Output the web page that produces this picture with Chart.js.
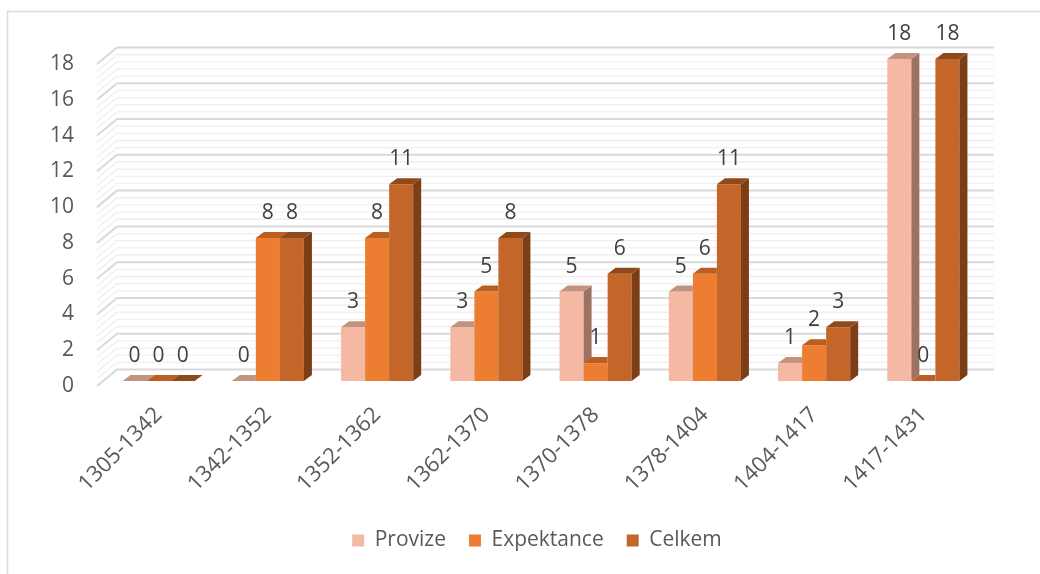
<!DOCTYPE html>
<html>
<head>
<meta charset="utf-8">
<script src="https://cdn.jsdelivr.net/npm/chart.js@4.4.0/dist/chart.umd.min.js"></script>
<style>
html,body{margin:0;padding:0;background:#fff;}
#wrap{position:relative;width:1040px;height:574px;}
</style>
</head>
<body>
<div id="wrap"><canvas id="c" width="1040" height="574"></canvas></div>
<script>
const categories = ['1305-1342','1342-1352','1352-1362','1362-1370','1370-1378','1378-1404','1404-1417','1417-1431'];
const provize = [0, 0, 3, 3, 5, 5, 1, 18];
const expektance = [0, 8, 8, 5, 1, 6, 2, 0];
const celkem = [0, 8, 11, 8, 6, 11, 3, 18];
const seriesNames = ['Provize', 'Expektance', 'Celkem'];
const yMin = 0, yMax = 18, yStep = 2;

const FONT = "'Open Sans', 'DejaVu Sans', sans-serif";
const faceColors = [
  {front: '#F4B8A3', top: '#C4937F', side: '#9E7262'},
  {front: '#ED7D31', top: '#BB5E22', side: '#A3531C'},
  {front: '#C4652A', top: '#8F4A1C', side: '#7B3E16'}
];
const DX = 8, DY = 6;          // bar depth
const FL = -7, FY = 5;         // floor front edge offset
const BX = 13, BY = -11.5;     // back wall offset
const BR = 16;                 // back wall right extension

const plugin3d = {
  id: 'fake3d',
  beforeDatasetsDraw(chart) {
    const {ctx, chartArea: a, scales: {y}} = chart;
    ctx.save();
    ctx.strokeStyle = '#d9d9d9';
    ctx.lineWidth = 1.5;
    ctx.beginPath();
    ctx.moveTo(7.5, 574); ctx.lineTo(7.5, 11.5); ctx.lineTo(1040, 11.5);
    ctx.stroke();
    const line = (v, color, w) => {
      const py = y.getPixelForValue(v);
      ctx.strokeStyle = color; ctx.lineWidth = w;
      ctx.beginPath();
      ctx.moveTo(a.left + FL, py + FY);
      ctx.lineTo(a.left + BX, py + BY);
      ctx.lineTo(a.right + BR, py + BY);
      ctx.stroke();
    };
    for (let k = 0; k <= 45; k++) {
      if (k % 5 === 0) continue;
      line(k * 0.4, '#efefef', 1.3);
    }
    y.ticks.forEach(t => line(t.value, '#d9d9d9', 2));
    ctx.restore();
  },
  afterDatasetsDraw(chart) {
    const {ctx} = chart;
    const metas = [0, 1, 2].map(i => chart.getDatasetMeta(i));
    ctx.save();
    for (let j = 0; j < categories.length; j++) {
      for (let i = 0; i < 3; i++) {
        const el = metas[i].data[j];
        const p = el.getProps(['x', 'y', 'base', 'width'], true);
        const l = p.x - p.width / 2, r = p.x + p.width / 2;
        ctx.save();
        if (i < 2) {
          const n = metas[i + 1].data[j].getProps(['x', 'y', 'base', 'width'], true);
          const nl = n.x - n.width / 2;
          ctx.beginPath();
          ctx.rect(0, 0, chart.width, chart.height);
          ctx.rect(nl, n.y, n.width, n.base - n.y);
          ctx.clip('evenodd');
        }
        const c = faceColors[i];
        ctx.fillStyle = c.side;
        ctx.beginPath();
        ctx.moveTo(r, p.y); ctx.lineTo(r + DX, p.y - DY); ctx.lineTo(r + DX, p.base - DY); ctx.lineTo(r, p.base);
        ctx.closePath(); ctx.fill();
        ctx.fillStyle = c.top;
        ctx.beginPath();
        ctx.moveTo(l, p.y); ctx.lineTo(r, p.y); ctx.lineTo(r + DX, p.y - DY); ctx.lineTo(l + DX, p.y - DY);
        ctx.closePath(); ctx.fill();
        ctx.restore();
      }
    }
    ctx.font = '21px ' + FONT;
    ctx.fillStyle = '#404040';
    ctx.textAlign = 'center';
    ctx.textBaseline = 'middle';
    metas.forEach((m, i) => {
      m.data.forEach((el, j) => {
        const p = el.getProps(['x', 'y'], true);
        ctx.fillText(String(chart.data.datasets[i].data[j]), p.x, p.y - 25);
      });
    });
    ctx.restore();
  }
};

const series = [provize, expektance, celkem];
new Chart(document.getElementById('c'), {
  type: 'bar',
  data: {
    labels: categories,
    datasets: series.map((d, i) => ({
      label: seriesNames[i],
      data: d,
      backgroundColor: faceColors[i].front,
      borderWidth: 0,
      categoryPercentage: 0.66,
      barPercentage: 1.0
    }))
  },
  options: {
    responsive: false,
    animation: false,
    devicePixelRatio: 1,
    layout: {padding: {left: 34, right: 0, top: 59, bottom: 13}},
    plugins: {
      tooltip: {enabled: false},
      legend: {
        position: 'bottom',
        labels: {
          boxWidth: 12, boxHeight: 12, padding: 23,
          color: '#595959',
          font: {family: FONT, size: 21}
        }
      }
    },
    scales: {
      x: {
        grid: {display: false, drawTicks: false},
        border: {display: false},
        ticks: {
          minRotation: 45, maxRotation: 45, autoSkip: false,
          padding: 21, color: '#595959',
          font: {family: FONT, size: 22}
        },
        afterFit(s) { s.height = 126; }
      },
      y: {
        min: yMin, max: yMax,
        grid: {display: false, drawTicks: false},
        border: {display: false},
        ticks: {
          stepSize: yStep, padding: 30, labelOffset: 5,
          color: '#595959',
          font: {family: FONT, size: 21}
        },
        afterFit(s) { s.width = 70; }
      },
      y2: {
        type: 'linear', position: 'right', display: true,
        grid: {display: false, drawTicks: false},
        border: {display: false},
        ticks: {display: false},
        afterFit(s) { s.width = 62; }
      }
    }
  },
  plugins: [plugin3d]
});
</script>
</body>
</html>
